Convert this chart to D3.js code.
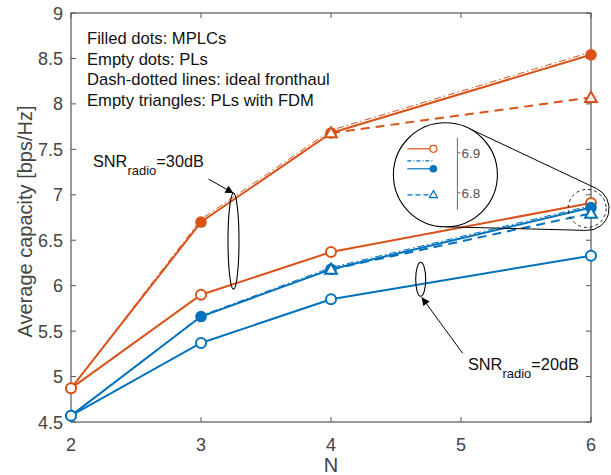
<!DOCTYPE html>
<html>
<head>
<meta charset="utf-8">
<script src="https://cdn.jsdelivr.net/npm/d3@7"></script>
<style>
  body { margin: 0; background: #fff; }
  text { font-family: "Liberation Sans", Arial, sans-serif; }
</style>
</head>
<body>
<script>
// data
const nVals = [2, 3, 4, 6];
const mplc30 = [4.87, 6.70, 7.68, 8.54];
const pl30 = [4.87, 5.90, 6.37, 6.91];
const ideal30 = [4.87, 6.73, 7.71, 8.57];
const mplc20 = [4.57, 5.66, 6.18, 6.86];
const pl20 = [4.57, 5.37, 5.85, 6.33];
const ideal20 = [4.57, 5.67, 6.20, 6.88];
const nFdm = [4, 6];
const fdm30 = [7.68, 8.07];
const fdm20 = [6.18, 6.795];
const xTicks = [2, 3, 4, 5, 6];
const yTicks = [4.5, 5, 5.5, 6, 6.5, 7, 7.5, 8, 8.5, 9];
const notes = ["Filled dots: MPLCs", "Empty dots: PLs", "Dash-dotted lines: ideal fronthaul", "Empty triangles: PLs with FDM"];

const orange = "#D95319", blue = "#0072BD";
const width = 611, height = 475;
const margin = {left: 71, right: 20, top: 13, bottom: 53};

let svg = d3.select("body").append("svg")
        .attr("width", width)
        .attr("height", height);

let x = d3.scaleLinear().domain([2, 6]).range([margin.left, width - margin.right]);
let y = d3.scaleLinear().domain([4.5, 9]).range([height - margin.bottom, margin.top]);

// axes box
const axCol = "#555";
svg.append("rect")
   .attr("x", x(2)).attr("y", y(9))
   .attr("width", x(6) - x(2)).attr("height", y(4.5) - y(9))
   .attr("fill", "none").attr("stroke", axCol).attr("stroke-width", 1.2);

let ax = svg.append("g");
xTicks.forEach(t => {
  ax.append("line").attr("x1", x(t)).attr("x2", x(t)).attr("y1", y(4.5)).attr("y2", y(4.5) - 5).attr("stroke", axCol);
  ax.append("line").attr("x1", x(t)).attr("x2", x(t)).attr("y1", y(9)).attr("y2", y(9) + 5).attr("stroke", axCol);
  ax.append("text").attr("x", x(t)).attr("y", y(4.5) + 29)
    .attr("text-anchor", "middle").attr("font-size", 18).attr("fill", "#444").text(t);
});
yTicks.forEach(t => {
  ax.append("line").attr("x1", x(2)).attr("x2", x(2) + 5).attr("y1", y(t)).attr("y2", y(t)).attr("stroke", axCol);
  ax.append("line").attr("x1", x(6)).attr("x2", x(6) - 5).attr("y1", y(t)).attr("y2", y(t)).attr("stroke", axCol);
  ax.append("text").attr("x", x(2) - 8).attr("y", y(t) + 6.5)
    .attr("text-anchor", "end").attr("font-size", 18).attr("fill", "#444").text(t);
});
svg.append("text").attr("x", x(4)).attr("y", 472)
   .attr("text-anchor", "middle").attr("font-size", 20).attr("fill", "#444").text("N");
svg.append("text").attr("transform", "translate(32," + (y(6.75) + 4) + ") rotate(-90)")
   .attr("text-anchor", "middle").attr("font-size", 20).attr("fill", "#444")
   .text("Average capacity [bps/Hz]");

// notes
notes.forEach((s, i) => {
  svg.append("text").attr("x", 87).attr("y", 44 + i * 20.6)
     .attr("font-size", 16.6).attr("fill", "#111").text(s);
});

let line = d3.line().x(d => x(d[0])).y(d => y(d[1]));
let drawLine = function(xs, ys, color, w, dash) {
  svg.append("path")
     .attr("d", line(xs.map((v, i) => [v, ys[i]])))
     .attr("fill", "none").attr("stroke", color)
     .attr("stroke-width", w)
     .attr("stroke-dasharray", dash);
};

drawLine(nVals, pl30, orange, 2, null);
drawLine(nVals, mplc30, orange, 2, null);
drawLine(nFdm, fdm30, orange, 2, "9,6");
drawLine(nVals, ideal30, orange, 1, "7,3,1.5,3");
drawLine(nVals, pl20, blue, 2, null);
drawLine(nVals, mplc20, blue, 2, null);
drawLine(nFdm, fdm20, blue, 2, "9,6");
drawLine(nVals, ideal20, blue, 1, "7,3,1.5,3");

let dots = function(xs, ys, color, filled) {
  svg.append("g").selectAll("circle").data(xs).join("circle")
     .attr("cx", d => x(d)).attr("cy", (d, i) => y(ys[i]))
     .attr("r", filled ? 5.8 : 5)
     .attr("fill", filled ? color : "#fff")
     .attr("stroke", color).attr("stroke-width", filled ? 0 : 2);
};
let tri = d3.symbol().type(d3.symbolTriangle).size(60);
let triangles = function(xs, ys, color) {
  svg.append("g").selectAll("path").data(xs).join("path")
     .attr("d", tri)
     .attr("transform", (d, i) => "translate(" + x(d) + "," + (y(ys[i]) + 1) + ")")
     .attr("fill", "#fff").attr("stroke", color).attr("stroke-width", 2);
};
dots(nVals, mplc30, orange, true);
dots(nVals, pl30, orange, false);
triangles(nFdm, fdm30, orange);
dots(nVals, mplc20, blue, true);
dots(nVals, pl20, blue, false);
triangles(nFdm, fdm20, blue);

// arrowhead
svg.append("defs").append("marker")
   .attr("id", "arr").attr("viewBox", "0 0 10 10")
   .attr("refX", 10).attr("refY", 5)
   .attr("markerWidth", 10).attr("markerHeight", 8)
   .attr("markerUnits", "userSpaceOnUse")
   .attr("orient", "auto")
   .append("path").attr("d", "M0,0 L10,5 L0,10 Z").attr("fill", "#000");

// SNR 30 dB annotation
let e30 = {cx: x(3.25), cy: y(6.49), rx: 5.5, ry: 48};
svg.append("ellipse").attr("cx", e30.cx).attr("cy", e30.cy).attr("rx", e30.rx).attr("ry", e30.ry)
   .attr("fill", "none").attr("stroke", "#000").attr("stroke-width", 1.1);
svg.append("line").attr("x1", e30.cx - 25).attr("y1", e30.cy - e30.ry - 14)
   .attr("x2", e30.cx).attr("y2", e30.cy - e30.ry)
   .attr("stroke", "#000").attr("stroke-width", 1).attr("marker-end", "url(#arr)");
let t30 = svg.append("text").attr("x", 93).attr("y", 167).attr("font-size", 16.3).attr("fill", "#111");
t30.append("tspan").text("SNR");
t30.append("tspan").attr("dy", 8).attr("font-size", 13).text("radio");
t30.append("tspan").attr("dy", -8).text("=30dB");

// SNR 20 dB annotation
let e20 = {cx: x(4.69), cy: y(6.07), rx: 5, ry: 17};
svg.append("ellipse").attr("cx", e20.cx).attr("cy", e20.cy).attr("rx", e20.rx).attr("ry", e20.ry)
   .attr("fill", "none").attr("stroke", "#000").attr("stroke-width", 1.1);
svg.append("line").attr("x1", e20.cx + 42).attr("y1", e20.cy + 74)
   .attr("x2", e20.cx + 1).attr("y2", e20.cy + e20.ry + 1)
   .attr("stroke", "#000").attr("stroke-width", 1).attr("marker-end", "url(#arr)");
let t20 = svg.append("text").attr("x", 468).attr("y", 370).attr("font-size", 16.3).attr("fill", "#111");
t20.append("tspan").text("SNR");
t20.append("tspan").attr("dy", 8).attr("font-size", 13).text("radio");
t20.append("tspan").attr("dy", -8).text("=20dB");

// magnifier
let big = {x: x(4.88), y: y(7.22), r: 52};
let small = {x: x(5.97), y: y(6.85), r: 22};
let dx = small.x - big.x, dy = small.y - big.y;
let dist = Math.hypot(dx, dy);
let th = Math.atan2(dy, dx);
let al = Math.acos((big.r - small.r) / dist);
let pathM = d3.path();
pathM.moveTo(big.x + big.r * Math.cos(th - al), big.y + big.r * Math.sin(th - al));
pathM.lineTo(small.x + small.r * Math.cos(th - al), small.y + small.r * Math.sin(th - al));
pathM.arc(small.x, small.y, small.r, th - al, th + al, false);
pathM.lineTo(big.x + big.r * Math.cos(th + al), big.y + big.r * Math.sin(th + al));
svg.append("path").attr("d", pathM.toString())
   .attr("fill", "none").attr("stroke", "#000").attr("stroke-width", 1);
svg.append("circle").attr("cx", small.x).attr("cy", small.y).attr("r", small.r - 3)
   .attr("fill", "none").attr("stroke", "#000").attr("stroke-width", 0.9).attr("stroke-dasharray", "3,3");
svg.append("circle").attr("cx", big.x).attr("cy", big.y).attr("r", big.r)
   .attr("fill", "#fff").attr("stroke", "#000").attr("stroke-width", 1.1);

// inset contents
let iy = d3.scaleLinear().domain([6.8, 6.9]).range([big.y + 18, big.y - 22]);
let ix0 = big.x - 38, ix1 = big.x - 12;
let inset = svg.append("g");
let seg = function(v, color, dash) {
  inset.append("line").attr("x1", ix0).attr("x2", ix1).attr("y1", iy(v)).attr("y2", iy(v))
       .attr("stroke", color).attr("stroke-width", 1.2).attr("stroke-dasharray", dash);
};
seg(pl30[3], orange, null);
seg(ideal20[3], blue, "4,2,1,2");
seg(mplc20[3], blue, null);
seg(fdm20[1], blue, "5,3");
inset.append("circle").attr("cx", ix1).attr("cy", iy(pl30[3])).attr("r", 3.5)
     .attr("fill", "#fff").attr("stroke", orange).attr("stroke-width", 1.2);
inset.append("circle").attr("cx", ix1).attr("cy", iy(mplc20[3])).attr("r", 3.8).attr("fill", blue);
inset.append("path").attr("d", d3.symbol().type(d3.symbolTriangle).size(28))
     .attr("transform", "translate(" + ix1 + "," + (iy(fdm20[1]) + 0.5) + ")")
     .attr("fill", "#fff").attr("stroke", blue).attr("stroke-width", 1.2);
inset.append("line").attr("x1", big.x + 12).attr("x2", big.x + 12)
     .attr("y1", big.y - 37).attr("y2", big.y + 35).attr("stroke", "#666").attr("stroke-width", 1);
[6.8, 6.9].forEach(t => {
  inset.append("line").attr("x1", big.x + 12).attr("x2", big.x + 15).attr("y1", iy(t)).attr("y2", iy(t))
       .attr("stroke", "#666");
  inset.append("text").attr("x", big.x + 16).attr("y", iy(t) + 5)
       .attr("font-size", 13.5).attr("fill", "#555").text(t);
});
</script>
</body>
</html>
